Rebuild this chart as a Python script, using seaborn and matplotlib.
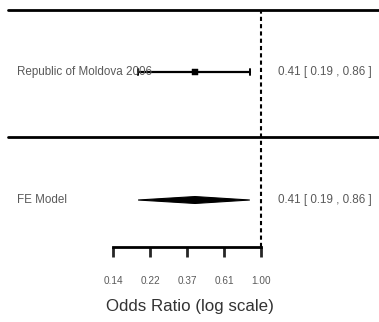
import numpy as np
import pandas as pd
import seaborn as sns
import matplotlib.pyplot as plt

# study level data (odds ratios)
study_labels = ["Republic of Moldova 2006"]
study_or = [0.41]
study_lo = [0.19]
study_hi = [0.86]

# fixed effect summary
fe_label = "FE Model"
fe_or = 0.41
fe_lo = 0.19
fe_hi = 0.86

tick_labels = ["0.14", "0.22", "0.37", "0.61", "1.00"]
tick_logs = [-2.0, -1.5, -1.0, -0.5, 0.0]

sns.set_style("white")
plt.rcParams['font.family'] = ['Liberation Sans', 'DejaVu Sans']

fig = plt.figure(figsize=(3.79, 3.22), dpi=100)
ax = fig.add_axes([0, 0, 1, 1])
ax.set_xscale("log")
ax.set_xlim(np.exp(-3.527), np.exp(1.595))
ax.set_ylim(-0.953, 1.5625)

row_study = 1.0
row_fe = 0.0
top_line = 1.484
mid_line = 0.492
axis_y = -0.368

df = pd.DataFrame({"label": study_labels, "or": study_or,
                   "lo": study_lo, "hi": study_hi, "row": [row_study]})

# horizontal separators
x_left = np.exp(-3.42)
x_right = np.exp(1.595)
ax.plot([x_left, x_right], [top_line, top_line], color="black", lw=2)
ax.plot([x_left, x_right], [mid_line, mid_line], color="black", lw=2)

# reference line at OR = 1
ax.plot([1, 1], [axis_y, top_line], color="black", lw=1.5, ls=(0, (2, 1.5)))

txt_kw = dict(ha="left", va="center", fontsize=8.4, color="#5a5a5a")

# study CI lines with end caps
for _, r in df.iterrows():
    ax.plot([r["lo"], r["hi"]], [r["row"], r["row"]], color="black", lw=1.6)
    for end in (r["lo"], r["hi"]):
        ax.plot([end, end], [r["row"] - 0.025, r["row"] + 0.025], color="black", lw=1.4)
    ax.text(np.exp(-3.3), r["row"], r["label"], **txt_kw)
    ax.text(np.exp(0.23), r["row"], "%.2f [ %.2f , %.2f ]" % (r["or"], r["lo"], r["hi"]), **txt_kw)
sns.scatterplot(data=df, x="or", y="row", marker="s", s=16, color="black",
                edgecolor="black", ax=ax, legend=False, zorder=5)

# FE diamond
h = 0.027
ax.fill([fe_lo, fe_or, fe_hi, fe_or], [row_fe, row_fe + h, row_fe, row_fe - h],
        color="black", lw=0.8, edgecolor="black")
ax.text(np.exp(-3.3), row_fe, fe_label, **txt_kw)
ax.text(np.exp(0.23), row_fe, "%.2f [ %.2f , %.2f ]" % (fe_or, fe_lo, fe_hi), **txt_kw)

# x axis
for s in ["top", "left", "right"]:
    ax.spines[s].set_visible(False)
ax.spines["bottom"].set_position(("data", axis_y))
ax.spines["bottom"].set_bounds(np.exp(tick_logs[0]), np.exp(tick_logs[-1]))
ax.spines["bottom"].set_linewidth(2)
ax.spines["bottom"].set_color("black")
ax.set_xticks(np.exp(tick_logs))
ax.set_xticklabels(tick_labels)
ax.xaxis.set_minor_locator(plt.NullLocator())
ax.tick_params(axis="x", direction="out", length=7.5, width=2, pad=13.5,
               labelsize=7.2, labelcolor="#5a5a5a", bottom=True)
ax.set_yticks([])
ax.set_xlabel("Odds Ratio (log scale)", fontsize=12.2, color="#333333", labelpad=9)
ax.set_ylabel("")

fig.savefig("out.png", dpi=100)
